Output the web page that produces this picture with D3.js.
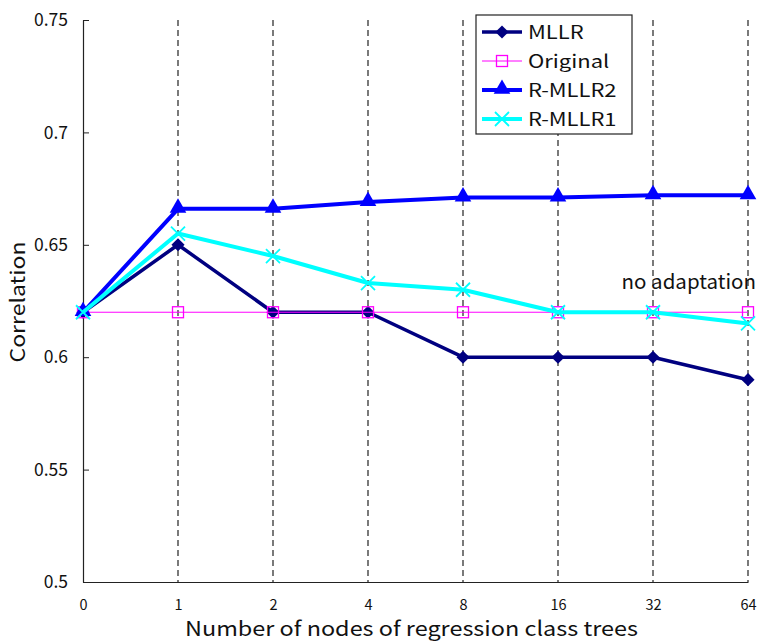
<!DOCTYPE html>
<html>
<head>
<meta charset="utf-8">
<script src="https://cdn.jsdelivr.net/npm/d3@7"></script>
<style>
  body { margin: 0; background: #fff; }
  text { font-family: "Noto Sans CJK JP", "DejaVu Sans", sans-serif; fill: #111; }
</style>
</head>
<body>
<div id="chart"></div>
<script>
var categories = ["0", "1", "2", "4", "8", "16", "32", "64"];
var mllr = [0.62, 0.65, 0.62, 0.62, 0.60, 0.60, 0.60, 0.59];
var original = [0.62, 0.62, 0.62, 0.62, 0.62, 0.62, 0.62, 0.62];
var rmllr2 = [0.62, 0.666, 0.666, 0.669, 0.671, 0.671, 0.672, 0.672];
var rmllr1 = [0.62, 0.655, 0.645, 0.633, 0.63, 0.62, 0.62, 0.615];
var yTicks = [0.5, 0.55, 0.6, 0.65, 0.7, 0.75];

var svgWidth = 757, svgHeight = 642;
var margin = { top: 20, right: 9, bottom: 60, left: 83 };
var width = svgWidth - margin.left - margin.right;
var height = svgHeight - margin.top - margin.bottom;

var svg = d3.select("#chart").append("svg")
  .attr("width", svgWidth)
  .attr("height", svgHeight);

var chartGroup = svg.append("g")
  .attr("transform", `translate(${margin.left}, ${margin.top})`);

var x = d3.scalePoint().domain(categories).range([0, width]);
var y = d3.scaleLinear().domain([0.5, 0.75]).range([height, 0]);

// dashed vertical grid lines
chartGroup.append("g")
  .selectAll("line")
  .data(categories.slice(1))
  .enter()
  .append("line")
  .attr("x1", d => x(d)).attr("x2", d => x(d))
  .attr("y1", 0).attr("y2", height)
  .attr("stroke", "#222")
  .attr("stroke-width", 1.2)
  .attr("stroke-dasharray", "6,4");

// axes
var leftAxis = d3.axisLeft(y).tickValues(yTicks).tickSize(6).tickSizeOuter(0)
  .tickFormat(d => d3.format("")(+d.toFixed(2)));
var yAxis = chartGroup.append("g").call(leftAxis);
yAxis.select(".domain").attr("stroke", "#222").attr("stroke-width", 1.2);
yAxis.selectAll(".tick line").attr("x2", 6).attr("stroke", "#222");
yAxis.selectAll(".tick text").attr("x", -15).attr("font-size", 17.5).attr("fill", "#111");

var bottomAxis = d3.axisBottom(x).tickSize(0);
var xAxis = chartGroup.append("g")
  .attr("transform", `translate(0, ${height})`)
  .call(bottomAxis);
xAxis.select(".domain").attr("stroke", "#222").attr("stroke-width", 1.2);
xAxis.selectAll(".tick text")
  .attr("y", 28).attr("dy", null)
  .attr("font-family", "DejaVu Sans")
  .attr("font-size", 14.5).attr("fill", "#111");

// axis labels
svg.append("text")
  .attr("transform", `translate(25, 302) rotate(-90)`)
  .attr("text-anchor", "middle")
  .attr("font-size", 20)
  .attr("textLength", 121)
  .attr("lengthAdjust", "spacingAndGlyphs")
  .text("Correlation");

svg.append("text")
  .attr("x", 185).attr("y", 636)
  .attr("font-family", "DejaVu Sans")
  .attr("font-size", 20.5)
  .attr("textLength", 453)
  .attr("lengthAdjust", "spacingAndGlyphs")
  .text("Number of nodes of regression class trees");

var line = d3.line()
  .x((d, i) => x(categories[i]))
  .y(d => y(d));

var series = [
  { name: "MLLR", values: mllr, color: "#000080", width: 3.5, marker: "diamond" },
  { name: "Original", values: original, color: "#ff00ff", width: 1, marker: "square" },
  { name: "R-MLLR2", values: rmllr2, color: "#0000ff", width: 4, marker: "triangle" },
  { name: "R-MLLR1", values: rmllr1, color: "#00ffff", width: 4, marker: "x" }
];

function drawMarker(g, type, color, cx, cy) {
  if (type === "diamond") {
    g.append("path")
      .attr("d", d3.symbol().type(d3.symbolDiamond2).size(110)())
      .attr("transform", `translate(${cx},${cy})`)
      .attr("fill", color);
  } else if (type === "square") {
    g.append("rect")
      .attr("x", cx - 5.5).attr("y", cy - 5.5)
      .attr("width", 11).attr("height", 11)
      .attr("fill", "none").attr("stroke", color).attr("stroke-width", 1.3);
  } else if (type === "triangle") {
    g.append("path")
      .attr("d", d3.symbol().type(d3.symbolTriangle).size(120)())
      .attr("transform", `translate(${cx},${cy - 1})`)
      .attr("fill", color);
  } else {
    g.append("path")
      .attr("d", `M${cx - 7},${cy - 7}L${cx + 7},${cy + 7}M${cx - 7},${cy + 7}L${cx + 7},${cy - 7}`)
      .attr("stroke", color).attr("stroke-width", 1.8);
  }
}

series.forEach(function(s) {
  var g = chartGroup.append("g");
  g.append("path")
    .datum(s.values)
    .attr("d", line)
    .attr("fill", "none")
    .attr("stroke", s.color)
    .attr("stroke-width", s.width)
    .attr("stroke-linejoin", "round");
  s.values.forEach(function(v, i) {
    drawMarker(g, s.marker, s.color, x(categories[i]), y(v));
  });
});

// annotation
svg.append("text")
  .attr("x", 756).attr("y", 289)
  .attr("text-anchor", "end")
  .attr("font-size", 20.5)
  .text("no adaptation");

// legend
var legend = svg.append("g").attr("transform", "translate(476, 15)");
legend.append("rect")
  .attr("width", 156).attr("height", 119)
  .attr("fill", "#fff").attr("stroke", "#222").attr("stroke-width", 1.2);
series.forEach(function(s, i) {
  var ly = 17 + i * 29;
  legend.append("line")
    .attr("x1", 6).attr("x2", 46).attr("y1", ly).attr("y2", ly)
    .attr("stroke", s.color).attr("stroke-width", s.width);
  drawMarker(legend, s.marker, s.color, 26, ly);
  legend.append("text")
    .attr("transform", `translate(52, ${ly + 7}) scale(1.22, 1)`)
    .attr("font-family", "DejaVu Sans")
    .attr("font-size", 18)
    .text(s.name);
});
</script>
</body>
</html>
